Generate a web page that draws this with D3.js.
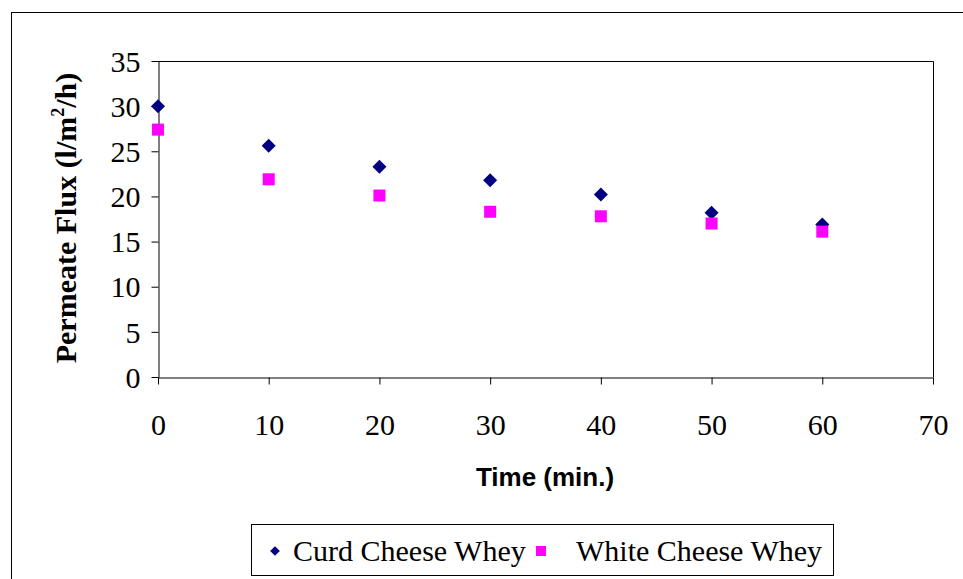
<!DOCTYPE html>
<html>
<head>
<meta charset="utf-8">
<script src="https://cdn.jsdelivr.net/npm/d3@7"></script>
<style>
  body { margin: 0; background: #fff; }
  svg { display: block; }
</style>
</head>
<body>
<div id="chart"></div>
<script>
// data
var times = [0, 10, 20, 30, 40, 50, 60];
var curdWhey = [30.0, 25.6, 23.3, 21.8, 20.2, 18.2, 16.9];
var whiteWhey = [27.4, 21.9, 20.1, 18.3, 17.8, 17.0, 16.1];
var seriesNames = ["Curd Cheese Whey", "White Cheese Whey"];
var xTicks = [0, 10, 20, 30, 40, 50, 60, 70];
var yTicks = [0, 5, 10, 15, 20, 25, 30, 35];

var W = 963, H = 579;
var svg = d3.select("#chart").append("svg")
            .attr("width", W)
            .attr("height", H);

svg.append("rect")
   .attr("width", W).attr("height", H)
   .attr("fill", "#fff");

// outer chart frame
svg.append("rect")
   .attr("x", 11.5).attr("y", 12.5)
   .attr("width", 980).attr("height", 600)
   .attr("fill", "none")
   .attr("stroke", "#000")
   .attr("stroke-width", 1);

var pLeft = 158, pRight = 933, pTop = 61, pBottom = 377;

var x = d3.scaleLinear().domain([0, 70]).range([pLeft, pRight]);
var y = d3.scaleLinear().domain([0, 35]).range([pBottom, pTop]);

// plot area box (top and right)
svg.append("path")
   .attr("d", "M" + pLeft + "," + (pTop + 0.5) + "H" + (pRight + 0.5) + "V" + pBottom)
   .attr("fill", "none")
   .attr("stroke", "#000")
   .attr("stroke-width", 1);

var serif = "'Liberation Serif', 'Times New Roman', serif";

var xAxis = svg.append("g")
   .attr("transform", "translate(0," + (pBottom + 0.5) + ")")
   .call(d3.axisBottom(x).tickValues(xTicks).tickSize(7).tickPadding(29).tickSizeOuter(0));

var yAxis = svg.append("g")
   .attr("transform", "translate(" + (pLeft + 0.5) + ",0)")
   .call(d3.axisLeft(y).tickValues(yTicks).tickSize(7).tickPadding(11).tickSizeOuter(0));

[xAxis, yAxis].forEach(function(g){
    g.select(".domain").attr("stroke", "#000");
    g.selectAll(".tick line").attr("stroke", "#000");
    g.selectAll(".tick text")
     .attr("fill", "#000")
     .attr("font-family", serif)
     .attr("font-size", "30px");
});
yAxis.selectAll(".tick text").attr("dy", "0.34em");

// axis titles
svg.append("text")
   .attr("x", 545)
   .attr("y", 486)
   .attr("text-anchor", "middle")
   .attr("font-family", "'Liberation Sans', Arial, sans-serif")
   .attr("font-weight", "bold")
   .attr("font-size", "26px")
   .text("Time (min.)");

var yt = svg.append("text")
   .attr("transform", "translate(76,218) rotate(-90)")
   .attr("text-anchor", "middle")
   .attr("font-family", serif)
   .attr("font-weight", "bold")
   .attr("font-size", "30px");
yt.append("tspan").text("Permeate Flux (l/m");
yt.append("tspan").attr("font-size", "18px").attr("dy", "-12").text("2");
yt.append("tspan").attr("dy", "12").text("/h)");

// markers
var diamond = d3.symbol().type(d3.symbolDiamond2);

svg.append("g").selectAll("path")
   .data(times)
   .enter().append("path")
   .attr("d", diamond.size(125)())
   .attr("transform", function(d, i){ return "translate(" + x(d) + "," + y(curdWhey[i]) + ")"; })
   .attr("fill", "#000080");

svg.append("g").selectAll("rect")
   .data(times)
   .enter().append("rect")
   .attr("x", function(d){ return x(d) - 6; })
   .attr("y", function(d, i){ return y(whiteWhey[i]) - 6; })
   .attr("width", 12).attr("height", 12)
   .attr("fill", "#ff00ff");

// legend
var lg = svg.append("g");
lg.append("rect")
  .attr("x", 251.5).attr("y", 524.5)
  .attr("width", 582).attr("height", 51)
  .attr("fill", "#fff")
  .attr("stroke", "#000")
  .attr("stroke-width", 1);

lg.append("path")
  .attr("d", diamond.size(60)())
  .attr("transform", "translate(275,551)")
  .attr("fill", "#000080");
lg.append("text")
  .attr("x", 293).attr("y", 561)
  .attr("font-family", serif)
  .attr("font-size", "30px")
  .text(seriesNames[0]);

lg.append("rect")
  .attr("x", 536).attr("y", 546)
  .attr("width", 10).attr("height", 10)
  .attr("fill", "#ff00ff");
lg.append("text")
  .attr("x", 576).attr("y", 561)
  .attr("font-family", serif)
  .attr("font-size", "30px")
  .text(seriesNames[1]);
</script>
</body>
</html>
